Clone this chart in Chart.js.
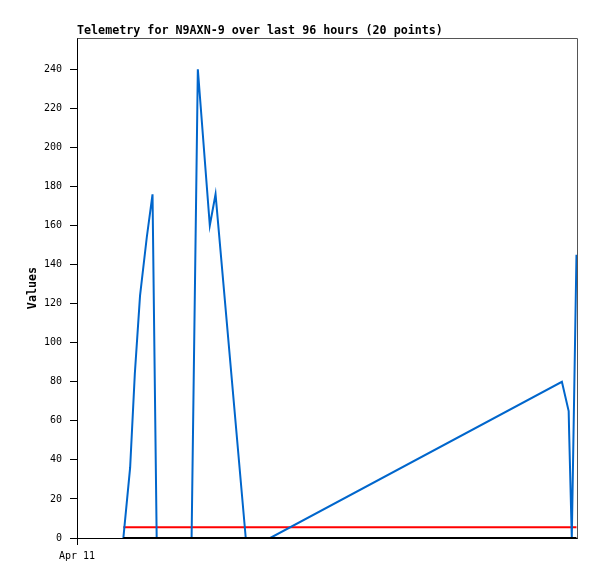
<!DOCTYPE html>
<html>
<head>
<meta charset="utf-8">
<script src="https://cdn.jsdelivr.net/npm/chart.js@4/dist/chart.umd.min.js"></script>
<style>
  html, body { margin: 0; padding: 0; background: #ffffff; }
  #wrap { width: 597px; height: 579px; position: relative; }
</style>
</head>
<body>
<div id="wrap"><canvas id="c" width="597" height="579"></canvas></div>
<script>
// Time in hours since start of the 96-hour window
const blueHours  = [8.9, 10.2, 11.1, 12.1, 13.4, 14.5, 15.3, 22.0, 23.2, 25.5, 26.6, 32.4, 37.1, 93.1, 94.4, 94.5, 95.0, 95.9];
const blueValues = [0, 36, 84, 124, 154, 176, 0, 0, 240, 160, 176, 0, 0, 80, 65, 53, 0, 145];
const redHours   = [8.9, 95.9];
const redValues  = [5.5, 5.5];
const blackHours = [8.9, 95.9];
const blackValues = [0, 0];
const yTicks = [0, 20, 40, 60, 80, 100, 120, 140, 160, 180, 200, 220, 240];
const xTicks = [0];
const xTickLabels = ['Apr 11'];
const titleText = 'Telemetry for N9AXN-9 over last 96 hours (20 points)';
const yTitle = 'Values';

const toPts = (xs, ys) => xs.map((x, i) => ({x: x, y: ys[i]}));

const frame = {
  id: 'frame',
  beforeDatasetsDraw(chart) {
    const {ctx, chartArea: a} = chart;
    ctx.save();
    ctx.strokeStyle = '#555555';
    ctx.lineWidth = 1;
    ctx.beginPath();
    ctx.moveTo(Math.round(a.left) + 0.5, Math.round(a.top) + 0.5);
    ctx.lineTo(Math.round(a.right) + 0.5, Math.round(a.top) + 0.5);
    ctx.lineTo(Math.round(a.right) + 0.5, Math.round(a.bottom) + 0.5);
    ctx.stroke();
    ctx.restore();
  }
};

new Chart(document.getElementById('c'), {
  type: 'line',
  data: {
    datasets: [
      { label: 'zero', data: toPts(blackHours, blackValues), borderColor: '#000000', borderWidth: 2, pointRadius: 0, tension: 0 },
      { label: 'value', data: toPts(blueHours, blueValues), borderColor: '#0066cc', borderWidth: 2, pointRadius: 0, tension: 0 },
      { label: 'limit', data: toPts(redHours, redValues), borderColor: '#ff0000', borderWidth: 2, pointRadius: 0, tension: 0 }
    ]
  },
  options: {
    responsive: false,
    animation: false,
    devicePixelRatio: 1,
    layout: { padding: { left: 0, right: 20, top: 0, bottom: 0 } },
    plugins: {
      legend: { display: false },
      tooltip: { enabled: false },
      title: {
        display: true,
        text: titleText,
        align: 'start',
        fullSize: false,
        color: '#000000',
        font: { family: 'DejaVu Sans Mono', size: 11.7, weight: 'bold', lineHeight: 1.2 },
        padding: { top: 24, bottom: 0 }
      }
    },
    scales: {
      x: {
        type: 'linear',
        min: 0,
        max: 96,
        afterBuildTicks: (s) => { s.ticks = xTicks.map(v => ({value: v})); },
        afterFit: (s) => { s.height = 41; },
        ticks: {
          autoSkip: false,
          maxRotation: 0,
          padding: 5,
          color: '#000000',
          font: { family: 'DejaVu Sans Mono', size: 10 },
          callback: (v) => { const i = xTicks.indexOf(v); return i >= 0 ? xTickLabels[i] : ''; }
        },
        grid: { display: true, drawOnChartArea: false, drawTicks: true, tickLength: 7, color: '#000000', lineWidth: 1 },
        border: { display: true, color: '#000000', width: 1 }
      },
      y: {
        type: 'linear',
        min: 0,
        max: 256,
        afterBuildTicks: (s) => { s.ticks = yTicks.map(v => ({value: v})); },
        afterFit: (s) => { s.width = 77; },
        title: {
          display: true,
          text: yTitle,
          color: '#000000',
          font: { family: 'DejaVu Sans Mono', size: 11.7, weight: 'bold', lineHeight: 1.2 },
          padding: { top: 26, bottom: 0 }
        },
        ticks: {
          padding: 8,
          color: '#000000',
          font: { family: 'DejaVu Sans Mono', size: 10 }
        },
        grid: { display: true, drawOnChartArea: false, drawTicks: true, tickLength: 7, color: '#000000', lineWidth: 1 },
        border: { display: true, color: '#000000', width: 1 }
      }
    }
  },
  plugins: [frame]
});
</script>
</body>
</html>
